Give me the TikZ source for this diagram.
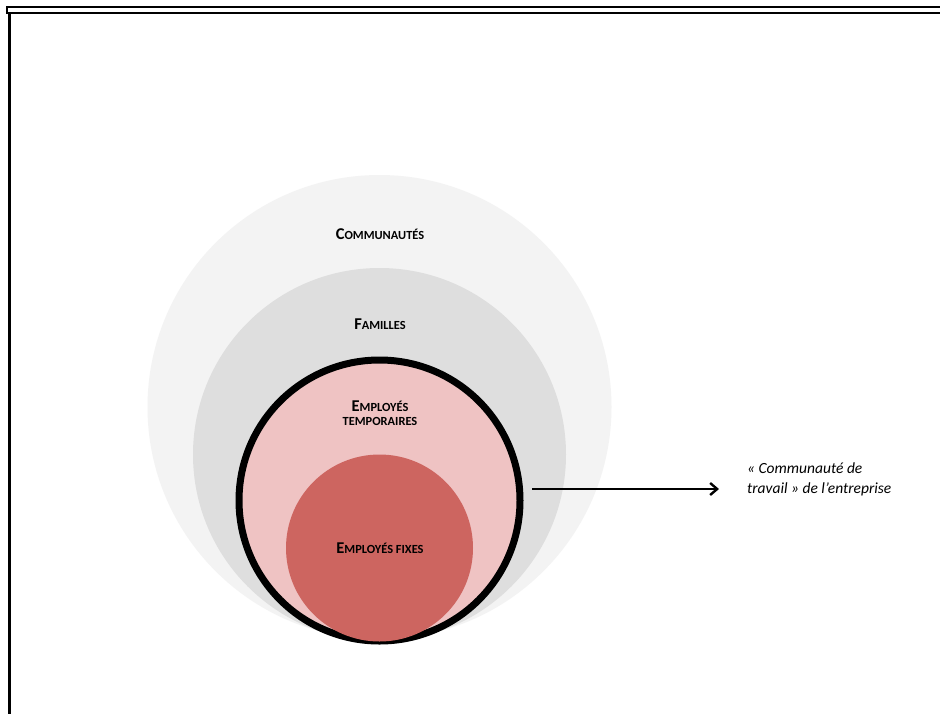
\documentclass[tikz,border=0pt]{standalone}
\usepackage{fontspec}
\setmainfont{Carlito}
\usetikzlibrary{arrows.meta}
\definecolor{commc}{HTML}{F3F3F3}
\definecolor{famc}{HTML}{DEDEDE}
\definecolor{tempc}{HTML}{EFC3C3}
\definecolor{fixc}{HTML}{CD6560}
\newcommand{\bigC}[1]{{\fontsize{16.5}{14}\selectfont #1}}
\newcommand{\smC}[1]{{\fontsize{12.4}{14}\selectfont #1}}
\tikzset{
  lbl/.style={font=\bfseries\fontsize{12.4}{14}\selectfont, align=center, text=black, inner sep=0pt},
  frameline/.style={draw=black, line cap=rect},
}
\begin{document}
\begin{tikzpicture}[x=1pt,y=-1pt]
\useasboundingbox (0,0) rectangle (940,713);
\fill[white] (0,0) rectangle (940,713);
% frame
\draw[frameline, line width=1.6pt] (7,7) -- (945,7);
\draw[frameline, line width=1.4pt] (7,7) -- (7,13);
\draw[frameline, line width=2.8pt] (8,13) -- (945,13);
\draw[frameline, line width=3pt] (9.5,13) -- (9.5,720);
% circles
\node[circle, fill=commc, minimum size=464pt, inner sep=0pt] (comm) at (379.5,407) {};
\node[circle, fill=famc, minimum size=373pt, inner sep=0pt] (fam) at (379.5,454.5) {};
\node[circle, fill=tempc, draw=black, line width=7pt, minimum size=281pt, inner sep=0pt] (temp) at (379.5,500.5) {};
\node[circle, fill=fixc, minimum size=187pt, inner sep=0pt] (fix) at (379.5,548) {};
% labels
\node[lbl] (tcomm) at (380,234) {\bigC{C}\smC{OMMUNAUTÉS}};
\node[lbl] (tfam) at (380,324) {\bigC{F}\smC{AMILLES}};
\node[lbl, anchor=base] (ttemp) at (380,425.5) {\bigC{E}\smC{MPLOYÉS}\\\smC{TEMPORAIRES}};
\node[lbl] (tfix) at (380,548) {\bigC{E}\smC{MPLOYÉS FIXES}};
% arrow + text
\coordinate (astart) at (532,489);
\node[font=\itshape\fontsize{15.5}{20}\selectfont, align=left, anchor=west, inner sep=0pt] (ctext) at (747,479) {« Communauté de\\travail » de l’entreprise};
\coordinate (aend) at (719,489);
\draw[line width=2.4pt, -{Straight Barb[length=7pt,width=12pt]}] (astart) -- (aend);
\end{tikzpicture}
\end{document}
